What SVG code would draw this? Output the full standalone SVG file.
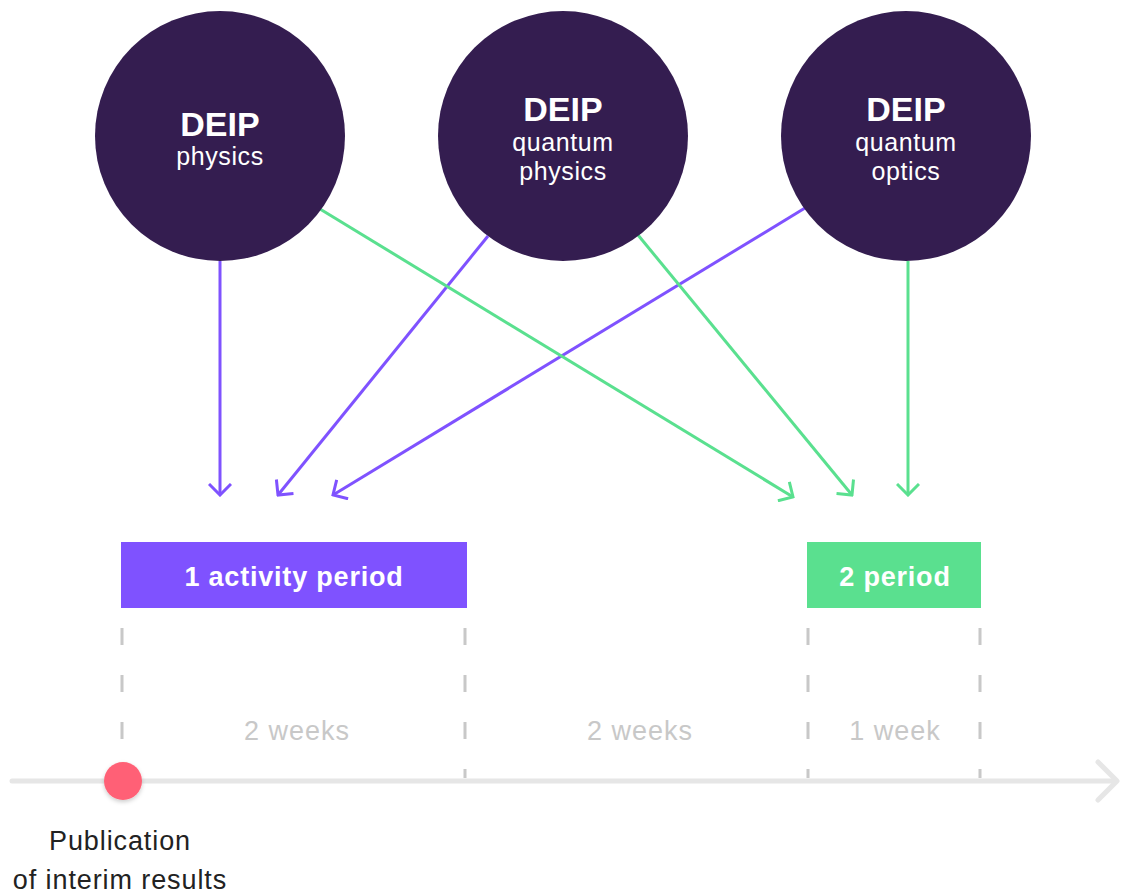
<svg xmlns="http://www.w3.org/2000/svg" width="1121" height="894" viewBox="0 0 1121 894">
<defs>
<style>
.node{fill:#341d50}
.t{font-family:"Liberation Sans",Arial,sans-serif;fill:#fff;text-anchor:middle}
.h{font-size:34px;font-weight:bold}
.s{font-size:25px;letter-spacing:0.6px}
.p{stroke:#7f52ff;stroke-width:3;fill:none}
.g{stroke:#5ae08f;stroke-width:3;fill:none}
.dash{stroke:#c8c8c8;stroke-width:3;stroke-dasharray:17 30}
.lbl{font-family:"Liberation Sans",Arial,sans-serif;font-size:27px;letter-spacing:1px;fill:#c8c8c8;text-anchor:middle}
.bt{font-family:"Liberation Sans",Arial,sans-serif;font-size:27px;letter-spacing:0.8px;font-weight:bold;fill:#fff;text-anchor:middle}
.pub{font-family:"Liberation Sans",Arial,sans-serif;font-size:27px;letter-spacing:0.9px;fill:#222;text-anchor:middle}
</style>
<marker id="ap" viewBox="0 0 14 24" refX="12" refY="12" markerWidth="14" markerHeight="24" markerUnits="userSpaceOnUse" orient="auto">
<path d="M1 1 L12 12 L1 23" fill="none" stroke="#7f52ff" stroke-width="3"/>
</marker>
<marker id="ag" viewBox="0 0 14 24" refX="12" refY="12" markerWidth="14" markerHeight="24" markerUnits="userSpaceOnUse" orient="auto">
<path d="M1 1 L12 12 L1 23" fill="none" stroke="#5ae08f" stroke-width="3"/>
</marker>
<filter id="sh" x="-50%" y="-50%" width="200%" height="200%">
<feDropShadow dx="0" dy="2" stdDeviation="2" flood-color="#000" flood-opacity="0.2"/>
</filter>
</defs>
<rect width="1121" height="894" fill="#fff"/>

<g id="connectors">
<line class="p" x1="220" y1="261" x2="220" y2="495" marker-end="url(#ap)"/>
<line class="p" x1="488" y1="236" x2="278" y2="495" marker-end="url(#ap)"/>
<line class="p" x1="805" y1="208" x2="333" y2="495" marker-end="url(#ap)"/>
<line class="g" x1="320" y1="209" x2="793" y2="497" marker-end="url(#ag)"/>
<line class="g" x1="638" y1="235" x2="852" y2="495" marker-end="url(#ag)"/>
<line class="g" x1="908" y1="261" x2="908" y2="495" marker-end="url(#ag)"/>
</g>

<g id="node-physics">
<circle class="node" cx="220" cy="136" r="125"/>
<text class="t h" x="220" y="136">DEIP</text>
<text class="t s" x="220" y="165">physics</text>
</g>
<g id="node-quantum-physics">
<circle class="node" cx="563" cy="136" r="125"/>
<text class="t h" x="563" y="121">DEIP</text>
<text class="t s" x="563" y="151">quantum</text>
<text class="t s" x="563" y="180">physics</text>
</g>
<g id="node-quantum-optics">
<circle class="node" cx="906" cy="136" r="125"/>
<text class="t h" x="906" y="121">DEIP</text>
<text class="t s" x="906" y="151">quantum</text>
<text class="t s" x="906" y="180">optics</text>
</g>

<g id="period-1">
<rect x="121" y="542" width="346" height="66" fill="#7f52ff"/>
<text class="bt" x="294" y="586">1 activity period</text>
</g>
<g id="period-2">
<rect x="807" y="542" width="174" height="66" fill="#5ae08f"/>
<text class="bt" x="895" y="586">2 period</text>
</g>

<g id="timeline">
<line x1="12" y1="781" x2="1115" y2="781" stroke="#e6e6e6" stroke-width="5" stroke-linecap="round"/>
<path d="M1098 762 L1117 781 L1098 800" fill="none" stroke="#e6e6e6" stroke-width="5" stroke-linecap="round" stroke-linejoin="round"/>
<line class="dash" x1="122" y1="628" x2="122" y2="778"/>
<line class="dash" x1="465" y1="628" x2="465" y2="778"/>
<line class="dash" x1="808" y1="628" x2="808" y2="778"/>
<line class="dash" x1="980" y1="628" x2="980" y2="778"/>
<text class="lbl" x="297" y="740">2 weeks</text>
<text class="lbl" x="640" y="740">2 weeks</text>
<text class="lbl" x="895" y="740">1 week</text>
</g>

<g id="publication">
<circle cx="123" cy="781" r="19" fill="#ff6176" filter="url(#sh)"/>
<text class="pub" x="120" y="850">Publication</text>
<text class="pub" x="120" y="889">of interim results</text>
</g>
</svg>
